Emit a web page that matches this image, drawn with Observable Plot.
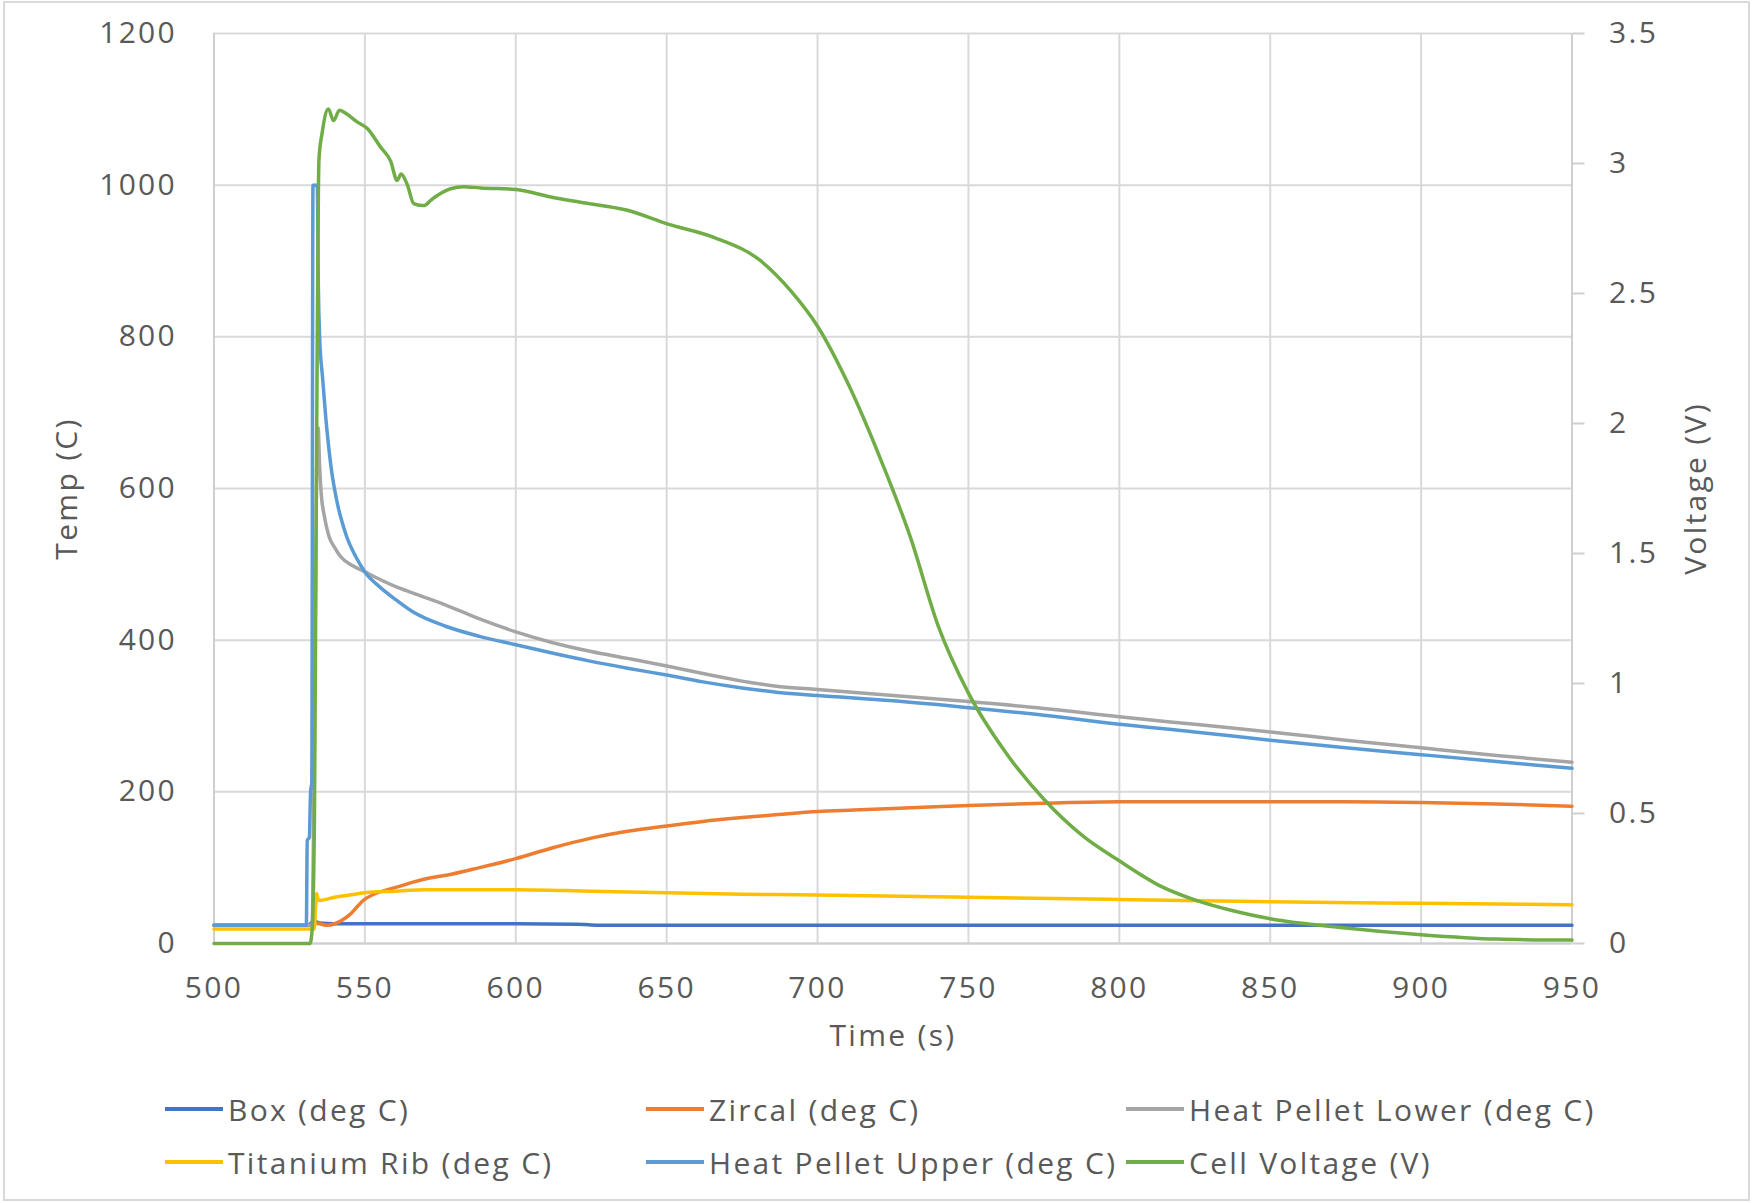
<!DOCTYPE html>
<html>
<head>
<meta charset="utf-8">
<script src="https://cdn.jsdelivr.net/npm/d3@7"></script>
<script src="https://cdn.jsdelivr.net/npm/@observablehq/plot@0.6"></script>
<style>
  html, body { margin: 0; padding: 0; background: #fff; }
  #wrap { position: relative; width: 1752px; height: 1203px; overflow: hidden; background: #fff; }
  #frame { position: absolute; left: 3px; top: 1px; width: 1743px; height: 1196px; border: 2px solid #d9d9d9; pointer-events: none; }
  #chart { position: absolute; left: 0; top: 0; }
  .leg { position: absolute; font-family: "Open Sans", sans-serif; font-size: 30px; letter-spacing: 2.3px; color: #595959; white-space: nowrap; display: flex; align-items: center; height: 40px; }
  .leg span.sw { display: inline-block; width: 58px; height: 4px; margin-right: 5px; }
</style>
</head>
<body>
<div id="wrap">
  <div id="chart"></div>
  <div id="legend"></div>
  <div id="frame"></div>
</div>
<script>
// ---- Data ----
const xTicks = [500, 550, 600, 650, 700, 750, 800, 850, 900, 950];
const yTicks = [0, 200, 400, 600, 800, 1000, 1200];
const vTicks = [0, 0.5, 1, 1.5, 2, 2.5, 3, 3.5];

const seriesNames = ["Box (deg C)", "Zircal (deg C)", "Heat Pellet Lower (deg C)", "Titanium Rib (deg C)", "Heat Pellet Upper (deg C)", "Cell Voltage (V)"];
const seriesColors = ["#4472C4", "#ED7D31", "#A5A5A5", "#FFC000", "#5B9BD5", "#70AD47"];

const boxTime = [500, 531, 532.5, 533.5, 535, 540, 560, 600, 620, 625, 630, 700, 800, 900, 950];
const boxTemp = [24, 24, 28, 29, 27, 26, 26, 26, 25.5, 24.5, 24, 24, 24, 24, 24];

const zircalTime = [500, 532, 533, 535, 537.5, 540, 545, 549.5, 553, 557.5, 562, 566, 571, 577, 588, 600, 612, 625, 637, 650, 662, 675, 687, 700, 712, 725, 737, 750, 775, 800, 825, 850, 875, 900, 925, 950];
const zircalTemp = [24, 24, 27, 26, 24, 26, 38, 57, 65, 71, 76, 81, 86, 90, 100, 112, 126, 139, 148, 155, 161, 166, 170, 174, 176, 178, 180, 182, 185, 187, 187, 187, 187, 186, 184, 181];

const lowerTime = [500, 532.5, 533.3, 534, 534.5, 535, 535.6, 536.5, 538, 540, 542, 546, 550, 555, 560, 566, 577, 588, 600, 612, 625, 637, 650, 662, 675, 687, 700, 725, 750, 775, 800, 825, 850, 875, 900, 925, 950];
const lowerTemp = [24, 24, 300, 620, 680, 630, 590, 565, 538, 522, 510, 498, 490, 480, 471, 462, 446, 428, 411, 397, 385, 376, 366, 356, 346, 339, 335, 327, 319, 310, 299, 289, 279, 268, 258, 248, 239];

const ribTime = [500, 533.2, 534, 534.6, 535, 540, 545, 550, 560, 570, 600, 625, 650, 675, 700, 750, 800, 850, 900, 950];
const ribTemp = [19, 19, 66, 57, 57, 61, 64, 67, 69, 71, 71, 69, 67, 65, 64, 61, 58, 55, 53, 51];

const upperTime = [500, 530.6, 530.9, 531.6, 532.0, 532.4, 532.8, 534.2, 534.6, 535, 536, 537, 538, 539, 540, 541, 542, 544, 547, 550, 555, 560, 566, 577, 588, 600, 612, 625, 637, 650, 662, 675, 687, 700, 725, 750, 775, 800, 825, 850, 875, 900, 925, 950];
const upperTemp = [24, 24, 136, 140, 200, 212, 1000, 1000, 860, 800, 745, 695, 655, 622, 598, 578, 562, 536, 510, 490, 470, 454, 437, 418, 405, 394, 383, 372, 363, 354, 345, 337, 331, 327, 320, 311, 301, 289, 279, 268, 258, 249, 240, 231];

const voltTime = [500, 531.8, 532.5, 533.3, 533.8, 534.2, 534.6, 534.8, 535.8, 537.9, 539.6, 541.6, 544, 547.4, 550.8, 555.2, 558.5, 560.7, 562, 564, 566.2, 569.5, 572, 574, 578.4, 582.8, 588.3, 600, 612, 621.4, 637, 650.2, 665.6, 681, 691, 700, 710.4, 721.5, 730.7, 740, 750, 762, 775, 788, 800, 814, 825, 838, 850, 875, 900, 925, 950];
const voltValue = [0, 0, 0.05, 0.5, 1.5, 2.3, 2.9, 3.02, 3.115, 3.21, 3.165, 3.205, 3.19, 3.16, 3.135, 3.063, 3.01, 2.935, 2.96, 2.92, 2.846, 2.838, 2.86, 2.877, 2.903, 2.911, 2.906, 2.9, 2.87, 2.851, 2.82, 2.768, 2.716, 2.627, 2.512, 2.374, 2.146, 1.845, 1.565, 1.221, 0.963, 0.74, 0.555, 0.413, 0.318, 0.219, 0.168, 0.125, 0.095, 0.06, 0.034, 0.017, 0.013];

// ---- Build ----
const K = 1200 / 3.5; // voltage -> temperature-scale factor (secondary axis)
const mk = (ts, vs, s = 1) => ts.map((t, i) => ({t, v: vs[i] * s}));
const series = [
  mk(boxTime, boxTemp),
  mk(zircalTime, zircalTemp),
  mk(lowerTime, lowerTemp),
  mk(ribTime, ribTemp),
  mk(upperTime, upperTemp),
  mk(voltTime, voltValue, K)
];

const W = 1752, H = 1080;
const plot = Plot.plot({
  width: W,
  height: H,
  marginLeft: 213.5,
  marginRight: 180.5,
  marginTop: 33,
  marginBottom: H - 943,
  x: {domain: [500, 950], axis: null},
  y: {domain: [0, 1200], axis: null},
  style: {fontFamily: "Open Sans, sans-serif", fontSize: "30px", color: "#595959", background: "white", letterSpacing: "2.3px", overflow: "visible"},
  marks: [
    Plot.gridX(xTicks, {stroke: "#d9d9d9", strokeOpacity: 1, strokeWidth: 2}),
    Plot.gridY(yTicks, {stroke: "#d9d9d9", strokeOpacity: 1, strokeWidth: 2}),
    Plot.ruleX([500], {stroke: "#cfcfcf", strokeWidth: 2}),
    Plot.ruleX([950], {stroke: "#cfcfcf", strokeWidth: 2}),
    Plot.ruleY([0], {stroke: "#cfcfcf", strokeWidth: 2}),
    Plot.axisX(xTicks, {tickSize: 0, tickPadding: 33, label: null, fill: "#595959", tickFormat: d => String(d)}),
    Plot.axisY(yTicks, {tickSize: 0, tickPadding: 37, label: null, fill: "#595959", tickFormat: d => String(d)}),
    Plot.axisY(vTicks.map(v => v * K), {anchor: "right", tickSize: 12, tickPadding: 25, label: null,
      stroke: "#cfcfcf", strokeWidth: 2, fill: "#595959",
      tickFormat: d => String(Math.round(d / K * 10) / 10)}),
    ...series.map((data, i) => Plot.line(data, {x: "t", y: "v", stroke: seriesColors[i], strokeWidth: 3.5, curve: "monotone-x"})),
    Plot.text(["Time (s)"], {text: d => d, frameAnchor: "bottom", dy: 102, textAnchor: "middle", fill: "#595959"}),
    Plot.text(["Temp (C)"], {text: d => d, frameAnchor: "left", rotate: -90, dx: -146.5, textAnchor: "middle", fill: "#595959"}),
    Plot.text(["Voltage (V)"], {text: d => d, frameAnchor: "right", rotate: -90, dx: 124.5, textAnchor: "middle", fill: "#595959"})
  ]
});
document.getElementById("chart").appendChild(plot);

// ---- Legend ----
const legPos = [[165, 1109], [646, 1109], [1126, 1109], [165, 1162], [646, 1162], [1126, 1162]];
const legend = document.getElementById("legend");
seriesNames.forEach((name, i) => {
  const d = document.createElement("div");
  d.className = "leg";
  d.style.left = legPos[i][0] + "px";
  d.style.top = (legPos[i][1] - 20) + "px";
  const sw = document.createElement("span");
  sw.className = "sw";
  sw.style.background = seriesColors[i];
  d.appendChild(sw);
  d.appendChild(document.createTextNode(name));
  legend.appendChild(d);
});
</script>
</body>
</html>
